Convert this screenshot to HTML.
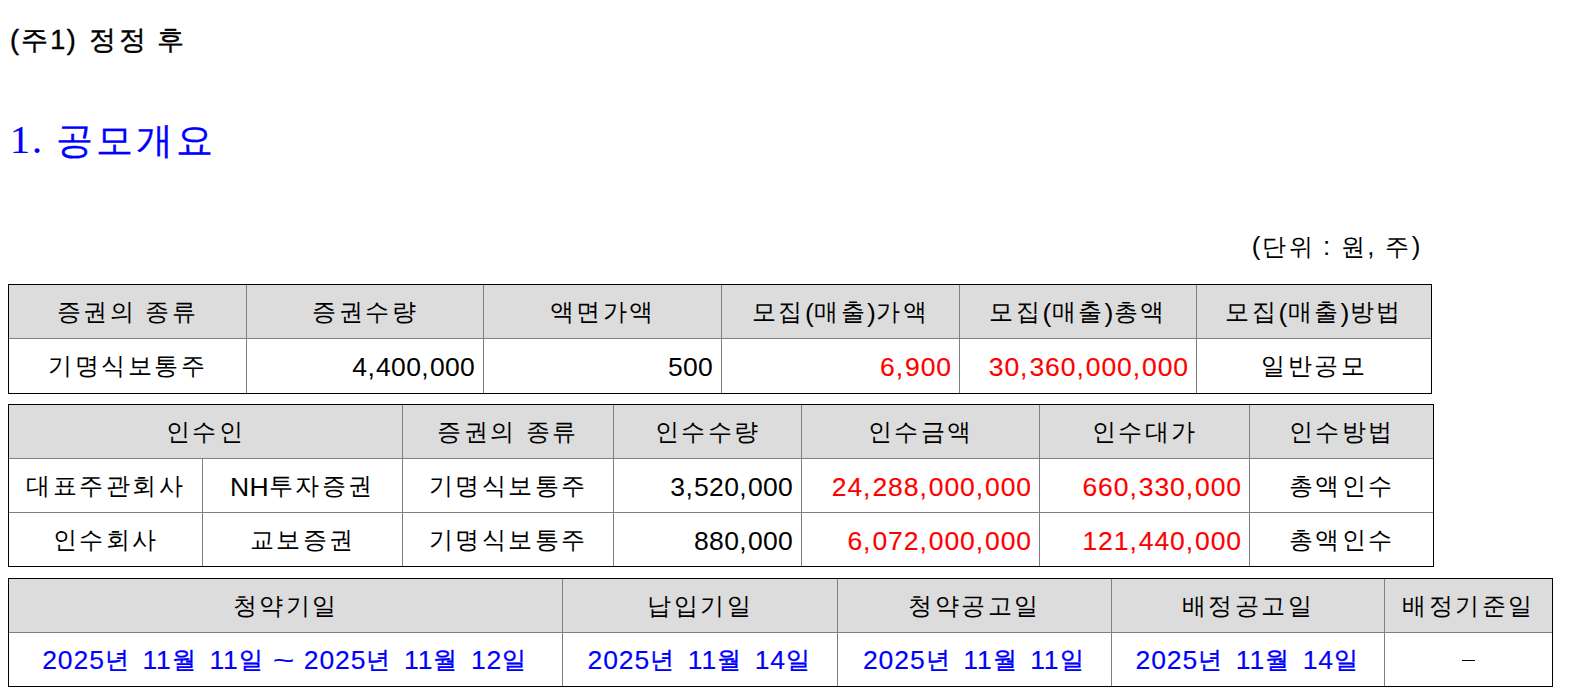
<!DOCTYPE html><html><head><meta charset="utf-8"><style>
html,body{margin:0;padding:0;background:#fff;width:1572px;height:696px;overflow:hidden;position:relative}
body{font-family:"Liberation Sans",sans-serif;color:#000}
div{position:absolute;box-sizing:border-box;white-space:nowrap}
.ln{border:1px solid #808080}
.ob{border:1px solid #000}
.tx.c{text-align:center}
.red .ba{top:2px}
.ra .cm{letter-spacing:1.3px}
.ba .cm{letter-spacing:2.0px}
.tl{display:inline-block;transform:scaleX(1.4);margin:0 0px}
.tx.r{text-align:right;padding-right:8px}
.rh{font-size:24px;letter-spacing:2.5px;word-spacing:0px}
.ra{position:relative;top:2px;font-size:26.5px;letter-spacing:0.3px;word-spacing:2.7px}
.bh{font-size:24px;letter-spacing:2.5px;word-spacing:2px;-webkit-text-stroke:0.4px currentColor}
.ba{position:relative;top:1px;font-size:26.5px;letter-spacing:0.9px;word-spacing:2.7px;-webkit-text-stroke:0.15px currentColor}
.t1{left:10px;top:20px;line-height:40px;word-spacing:0px;-webkit-text-stroke:0.4px currentColor}
.t1h{font-size:26.5px;letter-spacing:2.8px;word-spacing:-2.2px}
.t1a{font-size:27px;letter-spacing:1.5px;word-spacing:2.7px}
.t2{-webkit-text-stroke:0.2px currentColor;left:10px;top:115px;line-height:50px;word-spacing:0px;color:#0000ff;font-family:"Liberation Serif",serif}
.t2h{font-size:37px;letter-spacing:3px;word-spacing:0px}
.t2a{font-size:40px;letter-spacing:2px;word-spacing:0px}
.unit{left:0;width:1422px;top:226px;line-height:40px;text-align:right}
.uh{font-size:24px;letter-spacing:2.5px;word-spacing:-1.3px}
.ua{font-size:26px;letter-spacing:1.5px;word-spacing:0.5px}
</style></head><body>

<div class="t1"><span class="t1a">(</span><span class="t1h">주</span><span class="t1a">1) </span><span class="t1h">정정 후</span></div>
<div class="t2"><span class="t2a">1. </span><span class="t2h">공모개요</span></div>
<div class="unit"><span class="ua">(</span><span class="uh">단위 </span><span class="ua">: </span><span class="uh">원</span><span class="ua"><span class="cm">,</span> </span><span class="uh">주</span><span class="ua">)</span></div>
<div style="left:8px;top:284px;width:238px;height:54px;background:#dcdcdc"></div>
<div style="left:246px;top:284px;width:237px;height:54px;background:#dcdcdc"></div>
<div style="left:483px;top:284px;width:238px;height:54px;background:#dcdcdc"></div>
<div style="left:721px;top:284px;width:238px;height:54px;background:#dcdcdc"></div>
<div style="left:959px;top:284px;width:237px;height:54px;background:#dcdcdc"></div>
<div style="left:1196px;top:284px;width:235px;height:54px;background:#dcdcdc"></div>
<div class="ln" style="left:8px;top:284px;width:239px;height:55px"></div>
<div class="ln" style="left:246px;top:284px;width:238px;height:55px"></div>
<div class="ln" style="left:483px;top:284px;width:239px;height:55px"></div>
<div class="ln" style="left:721px;top:284px;width:239px;height:55px"></div>
<div class="ln" style="left:959px;top:284px;width:238px;height:55px"></div>
<div class="ln" style="left:1196px;top:284px;width:236px;height:55px"></div>
<div class="ln" style="left:8px;top:338px;width:239px;height:56px"></div>
<div class="ln" style="left:246px;top:338px;width:238px;height:56px"></div>
<div class="ln" style="left:483px;top:338px;width:239px;height:56px"></div>
<div class="ln" style="left:721px;top:338px;width:239px;height:56px"></div>
<div class="ln" style="left:959px;top:338px;width:238px;height:56px"></div>
<div class="ln" style="left:1196px;top:338px;width:236px;height:56px"></div>
<div class="tx c" style="left:9px;top:285px;width:237px;height:53px;line-height:53px;"><span class="rh">증권의 종류</span></div>
<div class="tx c" style="left:247px;top:285px;width:236px;height:53px;line-height:53px;"><span class="rh">증권수량</span></div>
<div class="tx c" style="left:484px;top:285px;width:237px;height:53px;line-height:53px;"><span class="rh">액면가액</span></div>
<div class="tx c" style="left:722px;top:285px;width:237px;height:53px;line-height:53px;"><span class="rh">모집</span><span class="ra">(</span><span class="rh">매출</span><span class="ra">)</span><span class="rh">가액</span></div>
<div class="tx c" style="left:960px;top:285px;width:236px;height:53px;line-height:53px;"><span class="rh">모집</span><span class="ra">(</span><span class="rh">매출</span><span class="ra">)</span><span class="rh">총액</span></div>
<div class="tx c" style="left:1197px;top:285px;width:234px;height:53px;line-height:53px;"><span class="rh">모집</span><span class="ra">(</span><span class="rh">매출</span><span class="ra">)</span><span class="rh">방법</span></div>
<div class="tx c" style="left:9px;top:339px;width:237px;height:53px;line-height:53px;"><span class="rh">기명식보통주</span></div>
<div class="tx r" style="left:247px;top:339px;width:236px;height:53px;line-height:53px;"><span class="ra">4<span class="cm">,</span>400<span class="cm">,</span>000</span></div>
<div class="tx r" style="left:484px;top:339px;width:237px;height:53px;line-height:53px;"><span class="ra">500</span></div>
<div class="tx r red" style="left:722px;top:339px;width:237px;height:53px;line-height:53px;color:#ff0000;padding-right:7px;"><span class="ba">6<span class="cm">,</span>900</span></div>
<div class="tx r red" style="left:960px;top:339px;width:236px;height:53px;line-height:53px;color:#ff0000;padding-right:7px;"><span class="ba">30<span class="cm">,</span>360<span class="cm">,</span>000<span class="cm">,</span>000</span></div>
<div class="tx c" style="left:1197px;top:339px;width:234px;height:53px;line-height:53px;"><span class="rh">일반공모</span></div>
<div class="ob" style="left:8px;top:284px;width:1424px;height:110px"></div>
<div style="left:8px;top:404px;width:394px;height:54px;background:#dcdcdc"></div>
<div style="left:402px;top:404px;width:211px;height:54px;background:#dcdcdc"></div>
<div style="left:613px;top:404px;width:188px;height:54px;background:#dcdcdc"></div>
<div style="left:801px;top:404px;width:238px;height:54px;background:#dcdcdc"></div>
<div style="left:1039px;top:404px;width:210px;height:54px;background:#dcdcdc"></div>
<div style="left:1249px;top:404px;width:184px;height:54px;background:#dcdcdc"></div>
<div class="ln" style="left:8px;top:404px;width:395px;height:55px"></div>
<div class="ln" style="left:402px;top:404px;width:212px;height:55px"></div>
<div class="ln" style="left:613px;top:404px;width:189px;height:55px"></div>
<div class="ln" style="left:801px;top:404px;width:239px;height:55px"></div>
<div class="ln" style="left:1039px;top:404px;width:211px;height:55px"></div>
<div class="ln" style="left:1249px;top:404px;width:185px;height:55px"></div>
<div class="ln" style="left:8px;top:458px;width:195px;height:55px"></div>
<div class="ln" style="left:202px;top:458px;width:201px;height:55px"></div>
<div class="ln" style="left:402px;top:458px;width:212px;height:55px"></div>
<div class="ln" style="left:613px;top:458px;width:189px;height:55px"></div>
<div class="ln" style="left:801px;top:458px;width:239px;height:55px"></div>
<div class="ln" style="left:1039px;top:458px;width:211px;height:55px"></div>
<div class="ln" style="left:1249px;top:458px;width:185px;height:55px"></div>
<div class="ln" style="left:8px;top:512px;width:195px;height:55px"></div>
<div class="ln" style="left:202px;top:512px;width:201px;height:55px"></div>
<div class="ln" style="left:402px;top:512px;width:212px;height:55px"></div>
<div class="ln" style="left:613px;top:512px;width:189px;height:55px"></div>
<div class="ln" style="left:801px;top:512px;width:239px;height:55px"></div>
<div class="ln" style="left:1039px;top:512px;width:211px;height:55px"></div>
<div class="ln" style="left:1249px;top:512px;width:185px;height:55px"></div>
<div class="tx c" style="left:9px;top:405px;width:393px;height:53px;line-height:53px;"><span class="rh">인수인</span></div>
<div class="tx c" style="left:403px;top:405px;width:210px;height:53px;line-height:53px;"><span class="rh">증권의 종류</span></div>
<div class="tx c" style="left:614px;top:405px;width:187px;height:53px;line-height:53px;"><span class="rh">인수수량</span></div>
<div class="tx c" style="left:802px;top:405px;width:237px;height:53px;line-height:53px;"><span class="rh">인수금액</span></div>
<div class="tx c" style="left:1040px;top:405px;width:209px;height:53px;line-height:53px;"><span class="rh">인수대가</span></div>
<div class="tx c" style="left:1250px;top:405px;width:183px;height:53px;line-height:53px;"><span class="rh">인수방법</span></div>
<div class="tx c" style="left:9px;top:459px;width:193px;height:53px;line-height:53px;"><span class="rh">대표주관회사</span></div>
<div class="tx c" style="left:203px;top:459px;width:199px;height:53px;line-height:53px;"><span class="ra">NH</span><span class="rh">투자증권</span></div>
<div class="tx c" style="left:403px;top:459px;width:210px;height:53px;line-height:53px;"><span class="rh">기명식보통주</span></div>
<div class="tx r" style="left:614px;top:459px;width:187px;height:53px;line-height:53px;"><span class="ra">3<span class="cm">,</span>520<span class="cm">,</span>000</span></div>
<div class="tx r red" style="left:802px;top:459px;width:237px;height:53px;line-height:53px;color:#ff0000;padding-right:7px;"><span class="ba">24<span class="cm">,</span>288<span class="cm">,</span>000<span class="cm">,</span>000</span></div>
<div class="tx r red" style="left:1040px;top:459px;width:209px;height:53px;line-height:53px;color:#ff0000;padding-right:7px;"><span class="ba">660<span class="cm">,</span>330<span class="cm">,</span>000</span></div>
<div class="tx c" style="left:1250px;top:459px;width:183px;height:53px;line-height:53px;"><span class="rh">총액인수</span></div>
<div class="tx c" style="left:9px;top:513px;width:193px;height:53px;line-height:53px;"><span class="rh">인수회사</span></div>
<div class="tx c" style="left:203px;top:513px;width:199px;height:53px;line-height:53px;"><span class="rh">교보증권</span></div>
<div class="tx c" style="left:403px;top:513px;width:210px;height:53px;line-height:53px;"><span class="rh">기명식보통주</span></div>
<div class="tx r" style="left:614px;top:513px;width:187px;height:53px;line-height:53px;"><span class="ra">880<span class="cm">,</span>000</span></div>
<div class="tx r red" style="left:802px;top:513px;width:237px;height:53px;line-height:53px;color:#ff0000;padding-right:7px;"><span class="ba">6<span class="cm">,</span>072<span class="cm">,</span>000<span class="cm">,</span>000</span></div>
<div class="tx r red" style="left:1040px;top:513px;width:209px;height:53px;line-height:53px;color:#ff0000;padding-right:7px;"><span class="ba">121<span class="cm">,</span>440<span class="cm">,</span>000</span></div>
<div class="tx c" style="left:1250px;top:513px;width:183px;height:53px;line-height:53px;"><span class="rh">총액인수</span></div>
<div class="ob" style="left:8px;top:404px;width:1426px;height:163px"></div>
<div style="left:8px;top:578px;width:554px;height:54px;background:#dcdcdc"></div>
<div style="left:562px;top:578px;width:275px;height:54px;background:#dcdcdc"></div>
<div style="left:837px;top:578px;width:274px;height:54px;background:#dcdcdc"></div>
<div style="left:1111px;top:578px;width:273px;height:54px;background:#dcdcdc"></div>
<div style="left:1384px;top:578px;width:168px;height:54px;background:#dcdcdc"></div>
<div class="ln" style="left:8px;top:578px;width:555px;height:55px"></div>
<div class="ln" style="left:562px;top:578px;width:276px;height:55px"></div>
<div class="ln" style="left:837px;top:578px;width:275px;height:55px"></div>
<div class="ln" style="left:1111px;top:578px;width:274px;height:55px"></div>
<div class="ln" style="left:1384px;top:578px;width:169px;height:55px"></div>
<div class="ln" style="left:8px;top:632px;width:555px;height:55px"></div>
<div class="ln" style="left:562px;top:632px;width:276px;height:55px"></div>
<div class="ln" style="left:837px;top:632px;width:275px;height:55px"></div>
<div class="ln" style="left:1111px;top:632px;width:274px;height:55px"></div>
<div class="ln" style="left:1384px;top:632px;width:169px;height:55px"></div>
<div class="tx c" style="left:9px;top:579px;width:553px;height:53px;line-height:53px;"><span class="rh">청약기일</span></div>
<div class="tx c" style="left:563px;top:579px;width:274px;height:53px;line-height:53px;"><span class="rh">납입기일</span></div>
<div class="tx c" style="left:838px;top:579px;width:273px;height:53px;line-height:53px;"><span class="rh">청약공고일</span></div>
<div class="tx c" style="left:1112px;top:579px;width:272px;height:53px;line-height:53px;"><span class="rh">배정공고일</span></div>
<div class="tx c" style="left:1385px;top:579px;width:167px;height:53px;line-height:53px;"><span class="rh">배정기준일</span></div>
<div class="tx c" style="left:9px;top:633px;width:553px;height:53px;line-height:53px;color:#0000ff;"><span class="ba">2025</span><span class="bh">년 </span><span class="ba">11</span><span class="bh">월 </span><span class="ba">11</span><span class="bh">일 </span><span class="ba tl">~</span><span class="ba"> 2025</span><span class="bh">년 </span><span class="ba">11</span><span class="bh">월 </span><span class="ba">12</span><span class="bh">일</span></div>
<div class="tx c" style="left:563px;top:633px;width:274px;height:53px;line-height:53px;color:#0000ff;"><span class="ba">2025</span><span class="bh">년 </span><span class="ba">11</span><span class="bh">월 </span><span class="ba">14</span><span class="bh">일</span></div>
<div class="tx c" style="left:838px;top:633px;width:273px;height:53px;line-height:53px;color:#0000ff;"><span class="ba">2025</span><span class="bh">년 </span><span class="ba">11</span><span class="bh">월 </span><span class="ba">11</span><span class="bh">일</span></div>
<div class="tx c" style="left:1112px;top:633px;width:272px;height:53px;line-height:53px;color:#0000ff;"><span class="ba">2025</span><span class="bh">년 </span><span class="ba">11</span><span class="bh">월 </span><span class="ba">14</span><span class="bh">일</span></div>
<div class="tx c" style="left:1385px;top:633px;width:167px;height:53px;line-height:53px;"></div>
<div class="ob" style="left:8px;top:578px;width:1545px;height:109px"></div>
<div style="left:1462px;top:660px;width:13px;height:1px;background:#000"></div>
</body></html>
